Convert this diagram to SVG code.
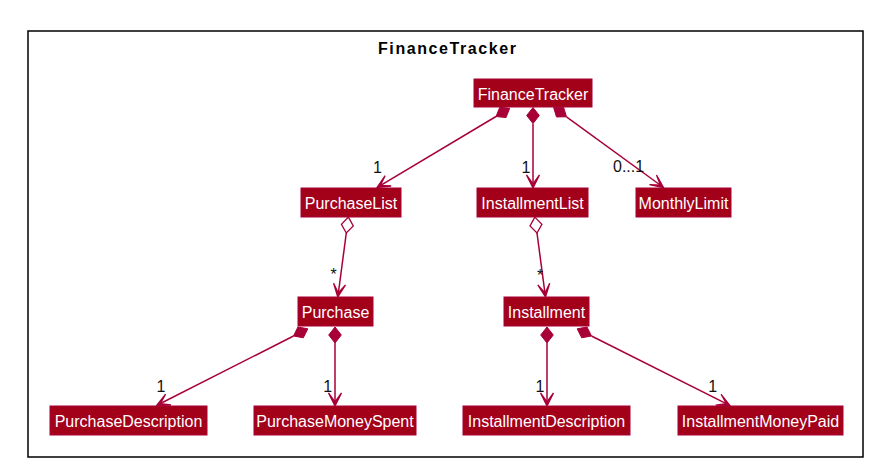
<svg xmlns="http://www.w3.org/2000/svg" width="877" height="470" viewBox="0 0 877 470">
<style>
.node rect{fill:#A3001A;stroke:#A80036;stroke-width:1}
.node text{font-family:"Liberation Sans",Arial,sans-serif;font-size:16px;fill:#FFFFFF;text-anchor:middle}
.edge line{stroke:#A80036;stroke-width:1.5}
.comp{fill:#A80036;stroke:#A80036;stroke-width:1}
.aggr{fill:#FFFFFF;stroke:#A80036;stroke-width:1.3}
.head{fill:#A80036;stroke:#A80036;stroke-width:1.3;stroke-linejoin:miter}
.lbl{font-family:"Liberation Sans",Arial,sans-serif;font-size:16px;fill:#111111}
</style>
<rect x="28" y="31" width="835" height="426" fill="#FFFFFF" stroke="#000000" stroke-width="1.5"/>
<text x="447" y="53.5" font-family="'Liberation Sans',Arial,sans-serif" font-size="16" font-weight="bold" text-anchor="middle" textLength="138" lengthAdjust="spacing" fill="#000000">FinanceTracker</text>
<g id="connectors" class="edge">
  <!-- FinanceTracker -> PurchaseList -->
  <line x1="496" y1="116.5" x2="379" y2="186.3"/>
  <polygon class="comp" points="509.7,108.3 506,117.6 496,116.5 499.8,107.25"/>
  <polygon class="head" points="377,187.5 385.1,175.7 380.4,185.45 391.2,186"/>
  <!-- FinanceTracker -> InstallmentList -->
  <line x1="533" y1="123.5" x2="533" y2="186"/>
  <polygon class="comp" points="533,107.5 539.3,115.5 533,123.5 526.7,115.5"/>
  <polygon class="head" points="533,188 526.5,175 533,184 539.5,175"/>
  <!-- FinanceTracker -> MonthlyLimit -->
  <line x1="566.5" y1="116.8" x2="661.5" y2="186"/>
  <polygon class="comp" points="553.6,107.4 563.6,107.25 566.5,116.8 556.5,116.95"/>
  <polygon class="head" points="663.5,187.5 649.5,184.7 660.3,185.1 656.5,175"/>
  <!-- PurchaseList -> Purchase -->
  <line x1="346.3" y1="233" x2="338.1" y2="295"/>
  <polygon class="aggr" points="348.4,217.1 353.3,225.9 346.3,233 341.4,224.3"/>
  <polygon class="head" points="337.8,297 333.6,283.3 338.3,293 345.5,284.9"/>
  <!-- Purchase -> PurchaseDescription -->
  <line x1="293.5" y1="336" x2="158.5" y2="404.5"/>
  <polygon class="comp" points="307.8,328.8 303.3,337.8 293.5,336 297.9,327"/>
  <polygon class="head" points="156.7,405.5 165.6,394.2 160.3,403.7 171,405"/>
  <!-- Purchase -> PurchaseMoneySpent -->
  <line x1="335" y1="343" x2="335" y2="404"/>
  <polygon class="comp" points="335,327 341.3,335 335,343 328.7,335"/>
  <polygon class="head" points="335,406 328.5,393 335,402 341.5,393"/>
  <!-- InstallmentList -> Installment -->
  <line x1="537" y1="233" x2="545.2" y2="295"/>
  <polygon class="aggr" points="534.9,217.1 541.9,224.3 537,233 530,225.9"/>
  <polygon class="head" points="545.5,297 537.8,284.9 545,293 549.7,283.3"/>
  <!-- Installment -> InstallmentDescription -->
  <line x1="547" y1="343" x2="547" y2="404"/>
  <polygon class="comp" points="547,327 553.3,335 547,343 540.7,335"/>
  <polygon class="head" points="547,406 540.5,393 547,402 553.5,393"/>
  <!-- Installment -> InstallmentMoneyPaid -->
  <line x1="591.5" y1="336" x2="728.2" y2="404.6"/>
  <polygon class="comp" points="577.2,328.8 587,327 591.5,336 581.7,337.8"/>
  <polygon class="head" points="730,405.5 715.7,405.1 726.4,403.7 721.1,394.3"/>
</g>
<g id="labels">
  <text class="lbl" x="373" y="173">1</text>
  <text class="lbl" x="521.5" y="173">1</text>
  <text class="lbl" x="613" y="172">0...1</text>
  <text class="lbl" x="330.5" y="280">*</text>
  <text class="lbl" x="537" y="281">*</text>
  <text class="lbl" x="156.5" y="392">1</text>
  <text class="lbl" x="323.3" y="392">1</text>
  <text class="lbl" x="535.5" y="392">1</text>
  <text class="lbl" x="708.3" y="392">1</text>
</g>
<g id="FinanceTracker" class="node"><rect x="474" y="79" width="118" height="28"/><text x="533" y="99.5">FinanceTracker</text></g>
<g id="PurchaseList" class="node"><rect x="301" y="188" width="100" height="29"/><text x="351" y="208.5">PurchaseList</text></g>
<g id="InstallmentList" class="node"><rect x="477" y="188" width="111" height="29"/><text x="532.5" y="208.5">InstallmentList</text></g>
<g id="MonthlyLimit" class="node"><rect x="636" y="188" width="95" height="29"/><text x="683.5" y="208.5">MonthlyLimit</text></g>
<g id="Purchase" class="node"><rect x="298" y="297" width="75" height="29"/><text x="335.5" y="317.5">Purchase</text></g>
<g id="Installment" class="node"><rect x="504" y="297" width="85" height="29"/><text x="546.5" y="317.5">Installment</text></g>
<g id="PurchaseDescription" class="node"><rect x="50" y="406" width="157" height="29"/><text x="128.5" y="426.5">PurchaseDescription</text></g>
<g id="PurchaseMoneySpent" class="node"><rect x="254" y="406" width="162" height="29"/><text x="335" y="426.5">PurchaseMoneySpent</text></g>
<g id="InstallmentDescription" class="node"><rect x="463" y="406" width="167" height="29"/><text x="546.5" y="426.5">InstallmentDescription</text></g>
<g id="InstallmentMoneyPaid" class="node"><rect x="678" y="406" width="165" height="29"/><text x="760.5" y="426.5">InstallmentMoneyPaid</text></g>
</svg>
